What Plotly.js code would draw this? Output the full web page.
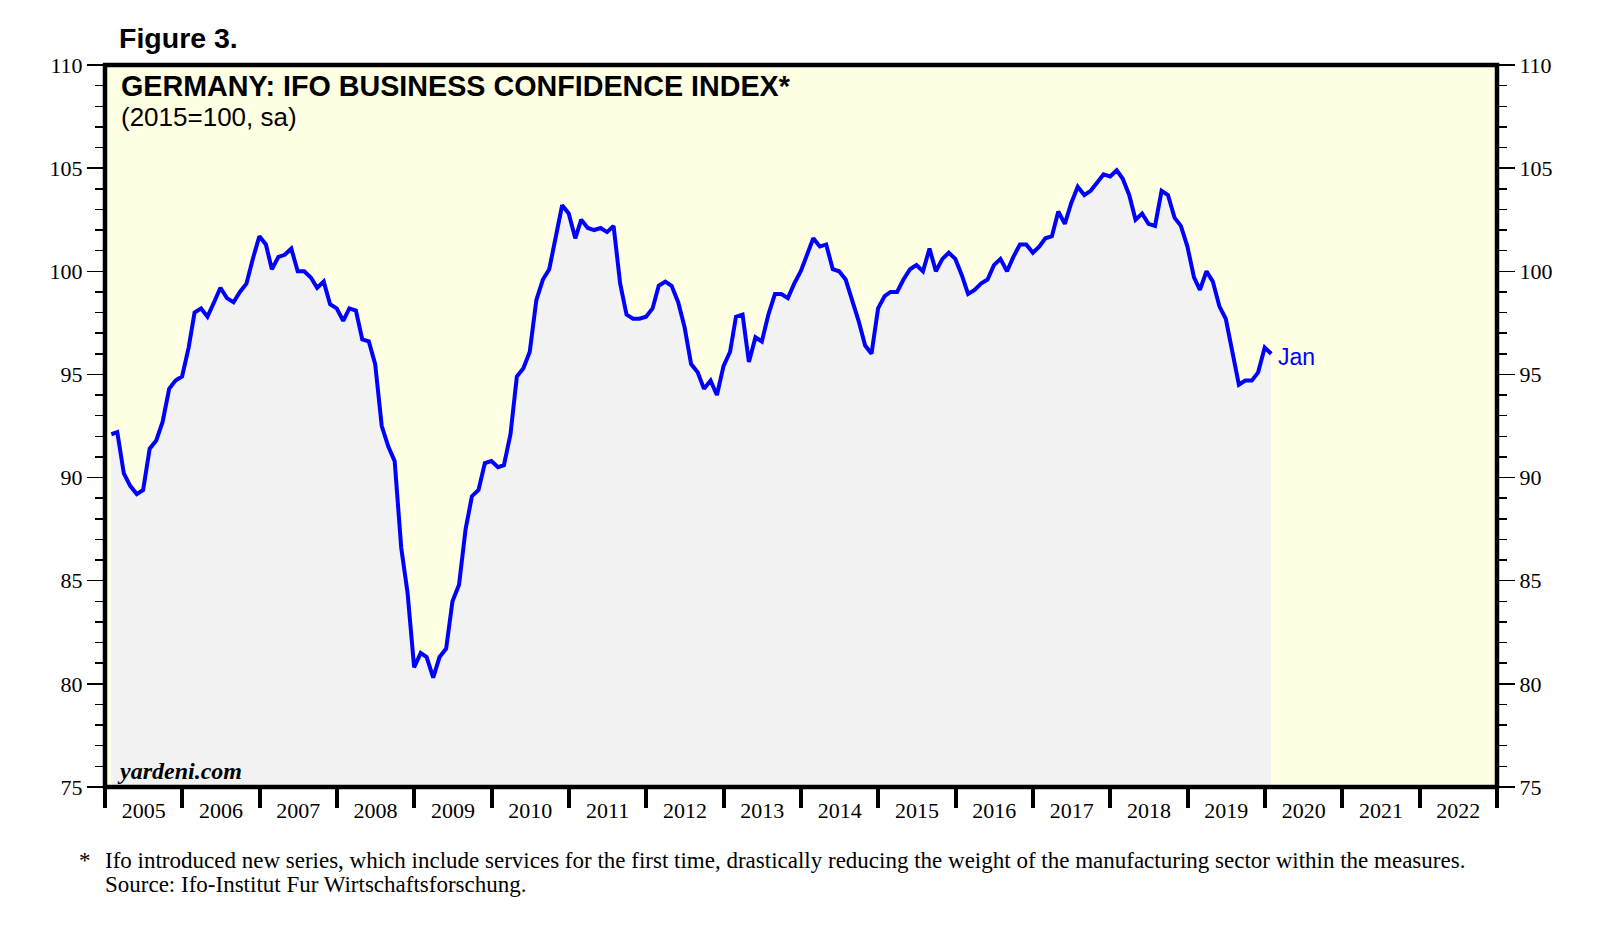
<!DOCTYPE html>
<html>
<head>
<meta charset="utf-8">
<script src="https://cdn.plot.ly/plotly-3.0.1.min.js"></script>
<style>
  html, body { margin: 0; padding: 0; background: #ffffff; }
  #chart { width: 1618px; height: 951px; }
</style>
</head>
<body>
<div id="chart"></div>
<script>
// ---- data (monthly, Jan 2005 .. Jan 2020) ----
const startYear = 2005;
const ifoIndex = [
  // 2005
  92.1, 92.2, 90.2, 89.6, 89.2, 89.4, 91.4, 91.8, 92.7, 94.3, 94.7, 94.9,
  // 2006
  96.3, 98.0, 98.2, 97.8, 98.5, 99.2, 98.7, 98.5, 99.0, 99.4, 100.6, 101.7,
  // 2007
  101.3, 100.1, 100.7, 100.8, 101.1, 100.0, 100.0, 99.7, 99.2, 99.5, 98.4, 98.2,
  // 2008
  97.6, 98.2, 98.1, 96.7, 96.6, 95.5, 92.5, 91.5, 90.8, 86.6, 84.4, 80.8,
  // 2009
  81.5, 81.3, 80.3, 81.3, 81.7, 84.0, 84.8, 87.5, 89.1, 89.4, 90.7, 90.8,
  // 2010
  90.5, 90.6, 92.1, 94.9, 95.3, 96.1, 98.6, 99.6, 100.1, 101.7, 103.2, 102.8,
  // 2011
  101.6, 102.5, 102.1, 102.0, 102.1, 101.9, 102.2, 99.4, 97.9, 97.7, 97.7, 97.8,
  // 2012
  98.2, 99.3, 99.5, 99.3, 98.5, 97.3, 95.5, 95.1, 94.3, 94.7, 94.0, 95.4,
  // 2013
  96.1, 97.8, 97.9, 95.6, 96.8, 96.6, 97.9, 98.9, 98.9, 98.7, 99.4, 100.0,
  // 2014
  100.9, 101.6, 101.2, 101.3, 100.1, 100.0, 99.6, 98.6, 97.6, 96.4, 96.0, 98.2,
  // 2015
  98.8, 99.0, 99.0, 99.6, 100.1, 100.3, 100.0, 101.1, 100.0, 100.6, 100.9, 100.6,
  // 2016
  99.8, 98.9, 99.1, 99.4, 99.6, 100.3, 100.6, 100.0, 100.7, 101.3, 101.3, 100.9,
  // 2017
  101.2, 101.6, 101.7, 102.9, 102.3, 103.3, 104.1, 103.7, 103.9, 104.3, 104.7, 104.6,
  // 2018
  104.9, 104.5, 103.7, 102.5, 102.8, 102.3, 102.2, 103.9, 103.7, 102.6, 102.2, 101.2,
  // 2019
  99.7, 99.1, 100.0, 99.5, 98.3, 97.7, 96.1, 94.5, 94.7, 94.7, 95.1, 96.3,
  // 2020
  96.0
];
const lastMonthLabel = 'Jan';
const yRange = [75, 110];
const xRange = ['2005-01-01', '2023-01-01'];

const figureLabel = 'Figure 3.';
const chartTitle = 'GERMANY: IFO BUSINESS CONFIDENCE INDEX*';
const chartSubtitle = '(2015=100, sa)';
const brandText = 'yardeni.com';
const footnoteMark = '*';
const footnoteText = 'Ifo introduced new series, which include services for the first time, drastically reducing the weight of the manufacturing sector within the measures.';
const sourceText = 'Source: Ifo-Institut Fur Wirtschaftsforschung.';

// monthly observations are plotted at the end of each month
const dates = ifoIndex.map((_, i) => {
  const y = startYear + Math.floor(i / 12);
  const m = i % 12;
  return new Date(Date.UTC(y, m + 1, 0)).toISOString().slice(0, 10);
});

// ---- layout geometry ----
const W = 1618, H = 951, L = 105, R = 121, T = 65, B = 164;
const PW = W - L - R, PH = H - T - B;
const px = x => (x - L) / PW;
const py = y => (H - B - y) / PH;

const serif = "'Liberation Serif', 'Times New Roman', serif";
const sans = "'Liberation Sans', Arial, sans-serif";

const traces = [
  {
    x: dates, y: ifoIndex, type: 'scatter', mode: 'lines',
    line: { color: '#0000FF', width: 4 },
    fill: 'tozeroy', fillcolor: '#F2F2F2',
    hoverinfo: 'skip', showlegend: false
  },
  {
    x: dates, y: ifoIndex, type: 'scatter', mode: 'lines', yaxis: 'y2',
    line: { color: 'rgba(0,0,0,0)', width: 0 },
    hoverinfo: 'skip', showlegend: false
  }
];

const yCommon = {
  range: yRange, dtick: 5, tick0: 75,
  ticks: 'outside', ticklen: 17, tickwidth: 1.5, tickcolor: '#000',
  minor: { dtick: 1, tick0: 75, ticks: 'outside', ticklen: 9, tickwidth: 1.5, tickcolor: '#000' },
  showgrid: false, zeroline: false, showline: false,
  tickfont: { family: serif, size: 22, color: '#000' },
  fixedrange: true
};

const layout = {
  width: W, height: H,
  margin: { l: L, r: R, t: T, b: B, pad: 0 },
  paper_bgcolor: '#ffffff',
  plot_bgcolor: '#FFFFE3',
  showlegend: false,
  xaxis: {
    type: 'date', range: xRange,
    dtick: 'M12', tick0: '2005-01-01',
    ticklabelmode: 'period', tickformat: '%Y',
    ticks: 'outside', ticklen: 20, tickwidth: 4, tickcolor: '#000',
    ticklabelstandoff: -16,
    showgrid: false, zeroline: false, showline: false,
    tickfont: { family: serif, size: 22, color: '#000' },
    fixedrange: true
  },
  yaxis: Object.assign({}, yCommon, { side: 'left' }),
  yaxis2: Object.assign({}, yCommon, { side: 'right', overlaying: 'y', matches: 'y' }),
  shapes: [
    {
      type: 'rect', xref: 'paper', yref: 'paper', x0: 0, x1: 1, y0: 0, y1: 1,
      line: { color: '#000', width: 4.5 }, fillcolor: 'rgba(0,0,0,0)', layer: 'above'
    }
  ],
  annotations: [
    { text: '<b>' + figureLabel + '</b>', xref: 'paper', yref: 'paper',
      x: px(117), y: py(38), xanchor: 'left', yanchor: 'middle', showarrow: false,
      font: { family: sans, size: 28.5, color: '#000' } },
    { text: '<b>' + chartTitle + '</b>', xref: 'paper', yref: 'paper',
      x: px(119), y: py(86), xanchor: 'left', yanchor: 'middle', showarrow: false,
      font: { family: sans, size: 28.7, color: '#000' } },
    { text: chartSubtitle, xref: 'paper', yref: 'paper',
      x: px(119), y: py(117), xanchor: 'left', yanchor: 'middle', showarrow: false,
      font: { family: sans, size: 26, color: '#000' } },
    { text: '<b><i>' + brandText + '</i></b>', xref: 'paper', yref: 'paper',
      x: px(115), y: py(771), xanchor: 'left', yanchor: 'middle', showarrow: false,
      font: { family: serif, size: 24, color: '#000' } },
    { text: lastMonthLabel, xref: 'x', yref: 'y',
      x: dates[dates.length - 1], y: ifoIndex[ifoIndex.length - 1],
      xanchor: 'left', yanchor: 'middle', xshift: 5, yshift: -3, showarrow: false,
      font: { family: sans, size: 23, color: '#0000FF' } },
    { text: footnoteMark, xref: 'paper', yref: 'paper',
      x: px(77), y: py(860), xanchor: 'left', yanchor: 'middle', showarrow: false,
      font: { family: serif, size: 23, color: '#000' } },
    { text: footnoteText, xref: 'paper', yref: 'paper',
      x: px(103), y: py(860), xanchor: 'left', yanchor: 'middle', showarrow: false,
      font: { family: serif, size: 23, color: '#000' } },
    { text: sourceText, xref: 'paper', yref: 'paper',
      x: px(103), y: py(884), xanchor: 'left', yanchor: 'middle', showarrow: false,
      font: { family: serif, size: 23, color: '#000' } }
  ]
};

Plotly.newPlot('chart', traces, layout, { staticPlot: true, displayModeBar: false });
</script>
</body>
</html>
